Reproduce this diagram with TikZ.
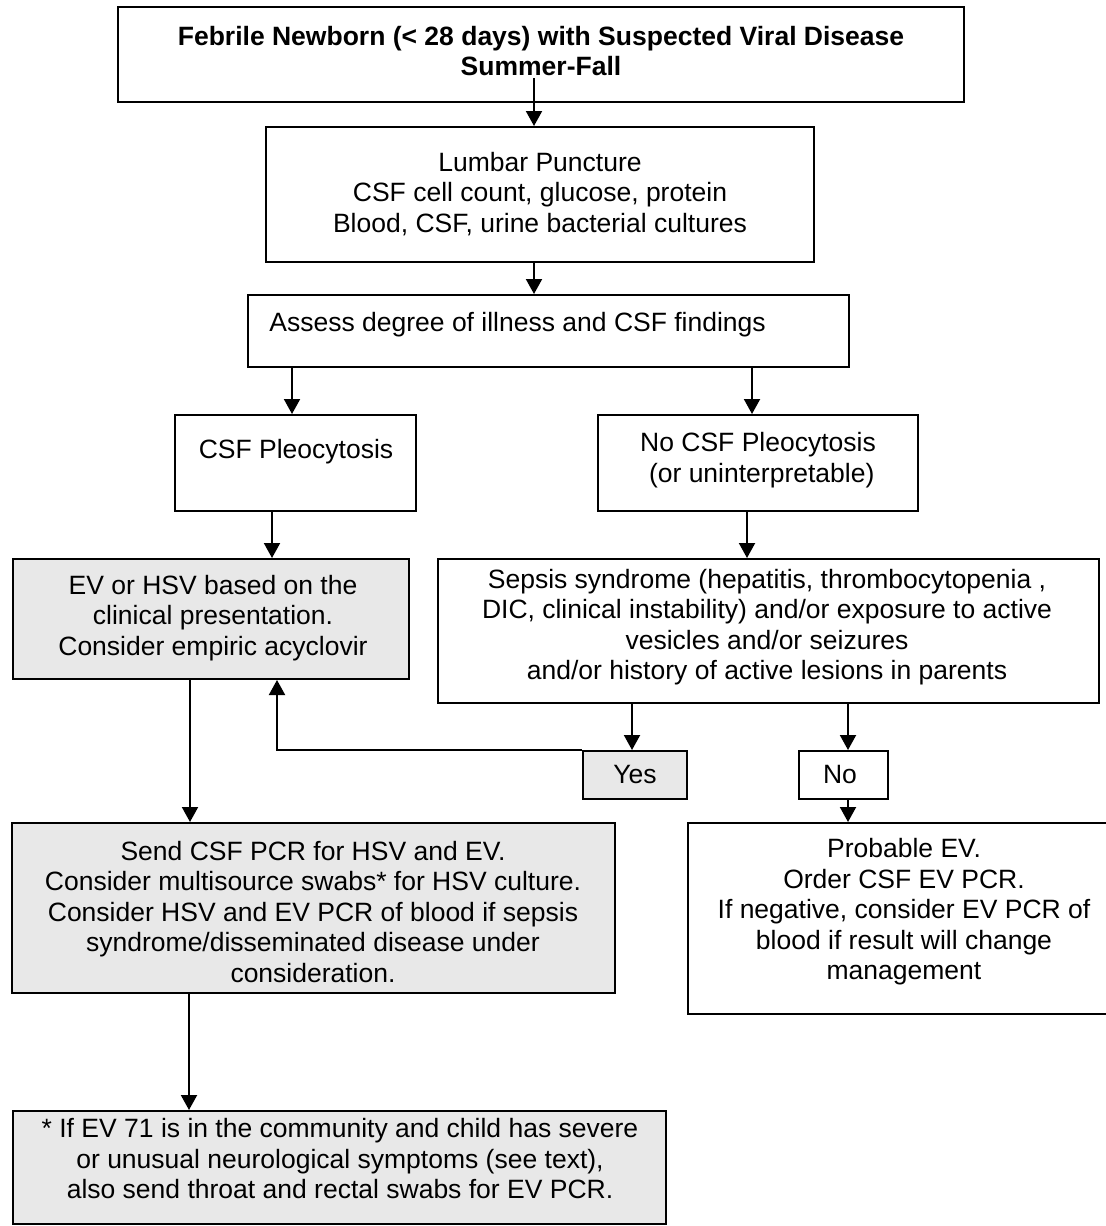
\documentclass[tikz,border=0pt]{standalone}
\usepackage{fontspec}
\setmainfont{Liberation Sans}
\usetikzlibrary{fit,arrows.meta,calc}
\definecolor{boxgrey}{RGB}{232,232,232}
\begin{document}
\begin{tikzpicture}[x=0.5pt,y=-0.5pt,
  box/.style={draw=black, line width=1pt, inner sep=0pt, fill=white},
  gbox/.style={box, fill=boxgrey},
  txt/.style={inner sep=0pt, align=center, font=\fontsize{13.25pt}{15.25pt}\selectfont},
  arr/.style={line width=1pt, -{Triangle[width=8pt,length=7.5pt]}},
  ln/.style={line width=1pt},
]
\useasboundingbox[fill=white] (0,0) rectangle (1106,1226);

% boxes
\node[box, fit={(118,7) (964,102)}] (top) {};
\node[box, fit={(266,127) (814,262)}] (lp) {};
\node[box, fit={(248,295) (849,367)}] (assess) {};
\node[box, fit={(175,415) (416,511)}] (pleo) {};
\node[box, fit={(598,415) (918,511)}] (nopleo) {};
\node[gbox, fit={(13,559) (409,679)}] (ev) {};
\node[box, fit={(438,559) (1099,703)}] (sepsis) {};
\node[gbox, fit={(583,751) (687,799)}] (yes) {};
\node[box, fit={(799,751) (888,799)}] (no) {};
\node[gbox, fit={(12,823) (615,993)}] (send) {};
\node[box, fit={(688,823) (1121,1014)}] (prob) {};
\node[gbox, fit={(13,1111) (666,1224)}] (foot) {};

% texts
\node[txt, font=\fontsize{13.25pt}{15.25pt}\selectfont\bfseries] (toptxt) at (541,51)
  {Febrile Newborn (< 28 days) with Suspected Viral Disease\\Summer-Fall};
\node[txt] (lptxt) at (540,194)
  {Lumbar Puncture\\CSF cell count, glucose, protein\\Blood, CSF, urine bacterial cultures};
\node[txt, anchor=base west] (assesstxt) at (269,331)
  {Assess degree of illness and CSF findings};
\node[txt] (pleotxt) at (296,452) {CSF Pleocytosis};
\node[txt] (nopleotxt) at (758,460)
  {No CSF Pleocytosis\\\hspace*{.28em}(or uninterpretable)};
\node[txt] (evtxt) at (213,618)
  {EV or HSV based on the\\clinical presentation.\\Consider empiric acyclovir};
\node[txt] (sepsistxt) at (767,627)
  {Sepsis syndrome (hepatitis, thrombocytopenia ,\\DIC, clinical instability) and/or exposure to active\\vesicles and/or seizures\\and/or history of active lesions in parents};
\node[txt] (yestxt) at (635,775) {Yes};
\node[txt] (notxt) at (840,775) {No};
\node[txt] (sendtxt) at (313,912)
  {Send CSF PCR for HSV and EV.\\Consider multisource swabs* for HSV culture.\\Consider HSV and EV PCR of blood if sepsis\\syndrome/disseminated disease under\\consideration.};
\node[txt] (probtxt) at (904,912)
  {Probable EV.\\Order CSF EV PCR.\\If negative, consider EV PCR of\\blood if result will change\\management};
\node[txt] (foottxt) at (340,1159)
  {* If EV 71 is in the community and child has severe\\or unusual neurological symptoms (see text),\\also send throat and rectal swabs for EV PCR.};

% connector x positions
\coordinate (topstart) at (534,78);
\coordinate (xpleoin) at (292,0);
\coordinate (xpleoout) at (272,0);
\coordinate (xnopin) at (752,0);
\coordinate (xnopout) at (747,0);
\coordinate (xyes) at (632,0);
\coordinate (xno) at (848,0);
\coordinate (xback) at (277,0);
\coordinate (xevout) at (190,0);
\coordinate (xsendout) at (189,0);

% connectors
\draw[arr] (topstart) -- (topstart |- lp.north);
\draw[arr] (lp.south -| topstart) -- (assess.north -| topstart);
\draw[arr] (assess.south -| xpleoin) -- (pleo.north -| xpleoin);
\draw[arr] (assess.south -| xnopin) -- (nopleo.north -| xnopin);
\draw[arr] (pleo.south -| xpleoout) -- (ev.north -| xpleoout);
\draw[arr] (nopleo.south -| xnopout) -- (sepsis.north -| xnopout);
\draw[arr] (sepsis.south -| xyes) -- (yes.north -| xyes);
\draw[arr] (sepsis.south -| xno) -- (no.north -| xno);
\draw[arr] (yes.north west) -| (ev.south -| xback);
\draw[arr] (no.south -| xno) -- (prob.north -| xno);
\draw[arr] (ev.south -| xevout) -- (send.north -| xevout);
\draw[arr] (send.south -| xsendout) -- (foot.north -| xsendout);
\end{tikzpicture}
\end{document}
